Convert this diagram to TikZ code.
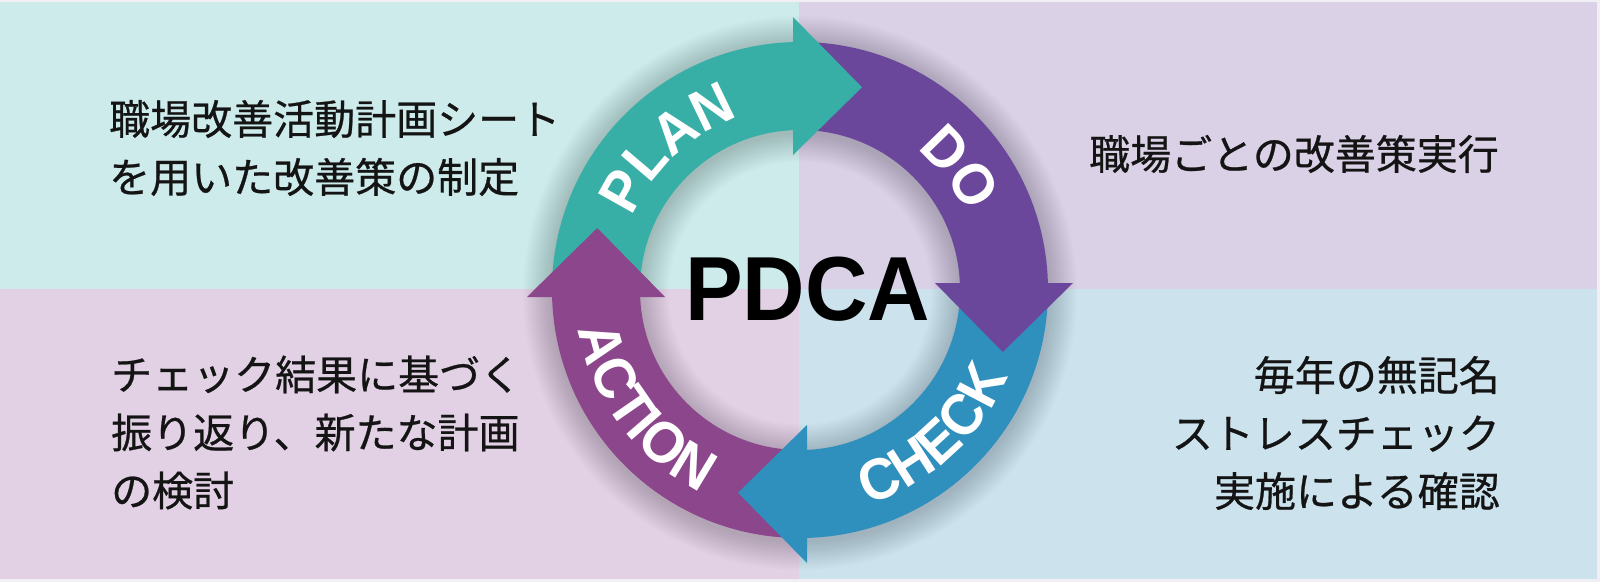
\documentclass[tikz,border=0pt]{standalone}
\usepackage{fontspec}
\newfontfamily\jpfont{Noto Sans CJK JP}[FakeBold=0.6]
\newfontfamily\lblfont{Liberation Sans}[FakeStretch=0.95]
\usetikzlibrary{decorations.text}
\definecolor{pagebg}{HTML}{F1EFF4}
\definecolor{bgTL}{HTML}{CDEBEA}
\definecolor{bgTR}{HTML}{DAD1E6}
\definecolor{bgBL}{HTML}{E2D1E5}
\definecolor{bgBR}{HTML}{CCE3EE}
\definecolor{cPlan}{HTML}{38AFA6}
\definecolor{cDo}{HTML}{6B479C}
\definecolor{cCheck}{HTML}{2F90BE}
\definecolor{cAct}{HTML}{8C468B}
\definecolor{ink}{HTML}{141414}
\tikzset{
  jptext/.style={inner sep=0pt, text=ink, font=\jpfont\fontsize{41}{58}\selectfont},
  arclabel/.style={decorate, decoration={text along path, text align=center, text color=white,
      text={|\lblfont\bfseries\fontsize{58}{58}\selectfont|#1}}}
}
\begin{document}
\begin{tikzpicture}[x=1pt,y=1pt]
\useasboundingbox (-800,-292) rectangle (800,290);
\fill[pagebg] (-800,-292) rectangle (800,290);
\fill[bgTL] (-800,1) rectangle (-1,288);
\fill[bgTR] (-1,1) rectangle (797,288);
\fill[bgBL] (-800,-289) rectangle (-1,1);
\fill[bgBR] (-1,-289) rectangle (797,1);
% soft shadow
\foreach \i in {1,...,16} {
  \fill[black, opacity=0.011, even odd rule] (0,-3) circle ({248+1.8*\i}) (0,-3) circle ({160-1.8*\i});
}
% bodies
\fill[cPlan] (180:248) arc[start angle=180, end angle=90, radius=248] -- (90:160) arc[start angle=90, end angle=180, radius=160] -- cycle;
\fill[cDo] (90:248) arc[start angle=90, end angle=0, radius=248] -- (0:160) arc[start angle=0, end angle=90, radius=160] -- cycle;
\fill[cCheck] (0:248) arc[start angle=0, end angle=-90, radius=248] -- (-90:160) arc[start angle=-90, end angle=0, radius=160] -- cycle;
\fill[cAct] (-90:248) arc[start angle=-90, end angle=-180, radius=248] -- (-180:160) arc[start angle=-180, end angle=-90, radius=160] -- cycle;
% heads
\fill[cPlan] (-7,135) -- (-7,273) -- (73:212) -- cycle;
\fill[cDo] (135,7) -- (273,7) -- (-17:212) -- cycle;
\fill[cCheck] (7,-135) -- (7,-273) -- (-107:212) -- cycle;
\fill[cAct] (-135,-7) -- (-273,-7) -- (163:212) -- cycle;
% arc labels
\path[arclabel={PLAN}] (183:183) arc[start angle=183, end angle=83, radius=183];
\path[arclabel={DO}] (87.5:183) arc[start angle=87.5, end angle=-12.5, radius=183];
\path[arclabel={CHECK}] (-97.5:225) arc[start angle=-97.5, end angle=2.5, radius=225];
\path[arclabel={ACTION}] (167:225) arc[start angle=167, end angle=267, radius=225];
% centre
\node[inner sep=0pt, font=\lblfont\bfseries\fontsize{91}{91}\selectfont, text=black] (pdca) at (7.5,0.5) {PDCA};
% texts
\node[jptext, anchor=west, align=left] (plantext) at (-691,142) {職場改善活動計画シート\\を用いた改善策の制定};
\node[jptext, anchor=west, align=left] (dotext) at (289,136) {職場ごとの改善策実行};
\node[jptext, anchor=west, align=left] (acttext) at (-689,-142.5) {チェック結果に基づく\\振り返り、新たな計画\\の検討};
\node[jptext, anchor=east, align=right] (checktext) at (700,-143) {毎年の無記名\\ストレスチェック\\実施による確認};
\end{tikzpicture}
\end{document}
